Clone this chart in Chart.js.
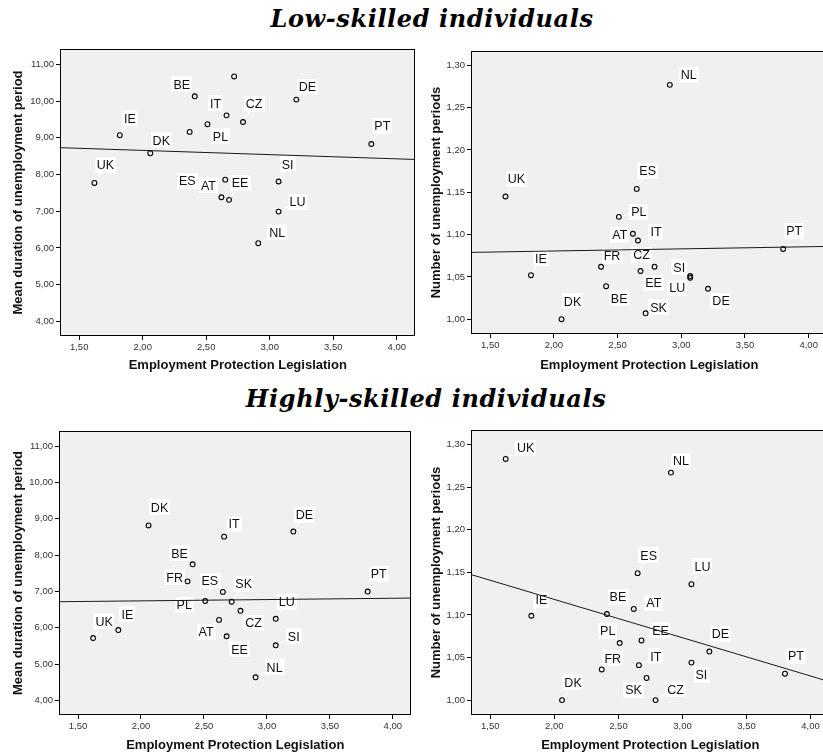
<!DOCTYPE html>
<html><head><meta charset="utf-8">
<script src="https://cdn.jsdelivr.net/npm/chart.js@4/dist/chart.umd.min.js"></script>
<style>
html,body{margin:0;padding:0;background:#fff;width:823px;height:755px;overflow:hidden;position:relative}
.t{position:absolute;transform:translateX(-50%);font-family:"DejaVu Serif",serif;font-weight:bold;font-style:italic;font-size:24px;line-height:24px;letter-spacing:0.6px;color:#000;white-space:nowrap}
canvas{position:absolute}
</style></head><body>
<div class="t" id="t1" style="left:432px;top:7px;">Low-skilled individuals</div>
<div class="t" id="t2" style="left:426px;top:387px;">Highly-skilled individuals</div>
<canvas id="c1" width="418" height="335" style="left:0px;top:40px"></canvas>
<canvas id="c2" width="412" height="335" style="left:418px;top:40px"></canvas>
<canvas id="c3" width="414" height="335" style="left:0px;top:420px"></canvas>
<canvas id="c4" width="414" height="335" style="left:418px;top:420px"></canvas>
<script>
// ---------- data ----------
const countries = ['UK','IE','DK','FR','BE','PL','AT','ES','IT','EE','SK','CZ','NL','LU','SI','DE','PT'];
const epl       = [1.62,1.82,2.06,2.37,2.41,2.51,2.62,2.65,2.66,2.68,2.72,2.79,2.91,3.07,3.07,3.21,3.80];
const lowDuration  = [7.77,9.07,8.58,9.16,10.13,9.37,7.38,7.86,9.61,7.31,10.67,9.43,6.13,6.99,7.81,10.04,8.83];
const lowNumber    = [1.145,1.052,1.000,1.062,1.039,1.121,1.101,1.154,1.093,1.057,1.007,1.062,1.277,1.049,1.051,1.036,1.083];
const highDuration = [5.72,5.94,8.82,7.28,7.75,6.74,6.22,6.99,8.51,5.77,6.72,6.47,4.64,6.25,5.52,8.65,7.00];
const highNumber   = [1.283,1.099,1.000,1.036,1.101,1.067,1.107,1.149,1.041,1.070,1.026,1.000,1.267,1.136,1.044,1.057,1.031];
// fitted lines: value at the x-axis minimum and maximum
const regLowDuration  = [8.73, 8.41];
const regLowNumber    = [1.079, 1.086];
const regHighDuration = [6.72, 6.82];
const regHighNumber   = [1.147, 1.022];
// axes
const eplTicks      = [1.5,2.0,2.5,3.0,3.5,4.0];
const durationTicks = [4,5,6,7,8,9,10,11];
const numberTicks   = [1.00,1.05,1.10,1.15,1.20,1.25,1.30];
const xRange        = [1.357, 4.14];
const durationRange = [3.63, 11.39];
const numberRange   = [0.9837, 1.3158];
const xTitle = 'Employment Protection Legislation';
const yTitleDuration = 'Mean duration of unemployment period';
const yTitleNumber = 'Number of unemployment periods';

// ---------- label placement (pixel offsets of label centre from point; null = no label) ----------
const offLowDuration = [[11,-18],[10,-17],[11,-13],null,[-13,-12],[13,12],[-13,-12],[-38,1],[-11,-12],[11,-17],null,[11,-18],[19,-11],[19,-10],[9,-17],[11,-13],[11,-18]];
const offLowNumber   = [[11,-18],[10,-17],[11,-18],[11,-11],[13,12],[20,-5],[-13,1],[11,-18],[18,-9],[13,12],[13,-6],[-13,-12],[19,-10],[-13,10],[-11,-9],[13,12],[11,-18]];
const offHighDuration= [[11,-17],[9,-16],[11,-18],[-13,-4],[-13,-11],[-21,4],[-13,12],[-13,-11],[10,-13],[13,13],[12,-18],[13,12],[19,-10],[11,-17],[18,-9],[11,-17],[11,-18]];
const offHighNumber  = [[20,-11],[10,-16],[11,-18],[11,-11],[11,-17],[-12,-12],[20,-6],[11,-18],[17,-9],[19,-10],[-13,12],[20,-11],[10,-12],[11,-18],[10,12],[11,-18],[11,-18]];

const fmt = v => Number(v).toFixed(2).replace('.', ',');
Chart.defaults.font.family = '"Liberation Sans", Arial, sans-serif';

const bgPlugin = {
  id:'bg',
  beforeDraw(chart){
    const a = chart.chartArea, ctx = chart.ctx;
    ctx.save(); ctx.fillStyle = '#f0f0f0';
    ctx.fillRect(a.left, a.top, a.right-a.left, a.bottom-a.top); ctx.restore();
  },
  afterDatasetsDraw(chart){
    const a = chart.chartArea, ctx = chart.ctx;
    ctx.save(); ctx.strokeStyle = '#000'; ctx.lineWidth = 1;
    const l = Math.round(a.left)-0.5, t = Math.round(a.top)-0.5, r = Math.round(a.right)-0.5, b = Math.round(a.bottom)+0.5;
    ctx.strokeRect(l, t, r-l, b-t); ctx.restore();
  }
};
function labelPlugin(offsets){
  return {
    id:'lbl',
    beforeDatasetsDraw(chart){
      const ctx = chart.ctx, a = chart.chartArea;
      const meta = chart.getDatasetMeta(1);
      ctx.save();
      ctx.beginPath(); ctx.rect(a.left, a.top, a.right-a.left, a.bottom-a.top); ctx.clip();
      ctx.font = '12.5px "Liberation Sans", Arial, sans-serif';
      countries.forEach((c,i)=>{
        const o = offsets[i]; if(!o) return;
        const p = meta.data[i];
        const cx = p.x + o[0], cy = p.y + o[1];
        const w = ctx.measureText(c).width + 4, h = 16;
        const d = Math.hypot(o[0], o[1]);
        ctx.strokeStyle = '#fff'; ctx.lineWidth = 1;
        ctx.beginPath(); ctx.moveTo(p.x + o[0]/d*3, p.y + o[1]/d*3); ctx.lineTo(cx, cy); ctx.stroke();
        ctx.fillStyle = '#fff'; ctx.fillRect(Math.round(cx-w/2), Math.round(cy-h/2), Math.round(w), h);
        ctx.fillStyle = '#111'; ctx.textAlign = 'center'; ctx.textBaseline = 'middle';
        ctx.fillText(c, cx, cy+1);
      });
      ctx.restore();
    }
  };
}

function makeChart(p){
  const pts = epl.map((x,i)=>({x, y:p.values[i]}));
  new Chart(document.getElementById(p.id), {
    type:'scatter',
    data:{datasets:[
      {type:'line', data:[{x:xRange[0],y:p.reg[0]},{x:xRange[1],y:p.reg[1]}], borderColor:'#1a1a1a', borderWidth:1, pointRadius:0, fill:false, tension:0, order:1},
      {data:pts, pointRadius:2.4, pointHoverRadius:2.4, borderWidth:1.1, borderColor:'#000', backgroundColor:'rgba(0,0,0,0)', order:0}
    ]},
    options:{
      responsive:false, animation:false, devicePixelRatio:1, events:[],
      layout:{padding:{top:p.padTop, right:p.padRight, left:0, bottom:0}},
      plugins:{legend:{display:false}, tooltip:{enabled:false}},
      scales:{
        x:{type:'linear', position:'bottom', min:xRange[0], max:xRange[1],
           afterBuildTicks:s=>{ s.ticks = eplTicks.map(v=>({value:v})); },
           afterFit:s=>{ s.height = p.xH; },
           ticks:{callback:fmt, font:{size:9.5}, color:'#333', padding:2, maxRotation:0, minRotation:0, autoSkip:false},
           grid:{display:true, drawOnChartArea:false, drawTicks:true, tickLength:5, color:'#000'},
           border:{display:false},
           title:{display:true, text:xTitle, font:{size:13, weight:'bold'}, color:'#111', padding:{top:0, bottom:p.xTitlePad}}},
        y:{type:'linear', position:'left', min:p.range[0], max:p.range[1],
           afterBuildTicks:s=>{ s.ticks = p.ticks.map(v=>({value:v})); },
           afterFit:s=>{ s.width = p.yW; },
           ticks:{callback:fmt, font:{size:9.5}, color:'#333', padding:2, autoSkip:false},
           grid:{display:true, drawOnChartArea:false, drawTicks:true, tickLength:5, color:'#000'},
           border:{display:false},
           title:{display:true, text:p.yTitle, font:{size:13, weight:'bold'}, color:'#111', padding:{top:p.yTitlePad, bottom:0}}}
      }
    },
    plugins:[bgPlugin, labelPlugin(p.offsets)]
  });
}

makeChart({id:'c1', values:lowDuration, reg:regLowDuration, range:durationRange, ticks:durationTicks, yTitle:yTitleDuration, offsets:offLowDuration,
  padTop:10, padRight:2, xH:40, yW:61, xTitlePad:1.7, yTitlePad:10.2});
makeChart({id:'c2', values:lowNumber, reg:regLowNumber, range:numberRange, ticks:numberTicks, yTitle:yTitleNumber, offsets:offLowNumber,
  padTop:12, padRight:2, xH:42, yW:54, xTitlePad:1.7, yTitlePad:10.2});
makeChart({id:'c3', values:highDuration, reg:regHighDuration, range:durationRange, ticks:durationTicks, yTitle:yTitleDuration, offsets:offHighDuration,
  padTop:12, padRight:2, xH:41, yW:60, xTitlePad:2.2, yTitlePad:10.2});
makeChart({id:'c4', values:highNumber, reg:regHighNumber, range:numberRange, ticks:numberTicks, yTitle:yTitleNumber, offsets:offHighNumber,
  padTop:11, padRight:2, xH:41, yW:54, xTitlePad:2.2, yTitlePad:10.2});
</script>
</body></html>
